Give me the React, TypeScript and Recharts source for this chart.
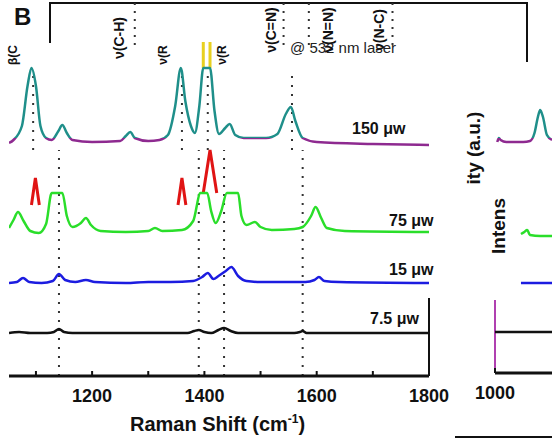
import { LineChart, Line, XAxis, YAxis, ReferenceLine } from "recharts";

// Raman shift (cm-1) and stacked intensity (a.u., offset per trace)
const shift150 = [1052, 1060, 1075, 1085, 1092, 1100, 1108, 1118, 1128, 1140, 1147, 1155, 1165, 1200, 1250, 1260, 1268, 1276, 1300, 1320, 1335, 1348, 1358, 1366, 1376, 1383, 1391, 1398, 1410, 1418, 1426, 1437, 1445, 1455, 1470, 1510, 1530, 1545, 1554, 1562, 1575, 1600, 1700, 1800];
const int150 = [233, 236, 250, 290, 308, 290, 250, 238, 236, 245, 251, 243, 236, 234, 235, 240, 244, 238, 235, 236, 241, 270, 308, 275, 250, 243, 270, 308, 308, 265, 242, 248, 252, 241, 238, 238, 242, 262, 269, 255, 238, 234, 232, 231];

const shift75 = [1052, 1060, 1068, 1078, 1090, 1105, 1118, 1128, 1147, 1155, 1165, 1180, 1189, 1198, 1215, 1260, 1300, 1312, 1325, 1360, 1380, 1393, 1405, 1412, 1420, 1430, 1440, 1460, 1466, 1475, 1490, 1500, 1520, 1560, 1575, 1590, 1598, 1608, 1618, 1650, 1800];
const int75 = [148, 156, 164, 155, 145, 143, 152, 183, 183, 160, 149, 153, 158, 151, 145, 144, 145, 148, 145, 146, 155, 183, 183, 165, 153, 165, 183, 183, 160, 151, 154, 149, 146, 147, 149, 160, 169, 158, 148, 145, 144];

const shift15 = [1052, 1066, 1077, 1088, 1110, 1130, 1141, 1152, 1170, 1189, 1205, 1260, 1300, 1340, 1380, 1396, 1406, 1416, 1425, 1438, 1448, 1460, 1475, 1500, 1580, 1596, 1604, 1614, 1640, 1800];
const int15 = [93, 94, 98, 94, 93, 95, 102, 96, 94, 96, 94, 93, 94, 94, 95, 99, 103, 97, 100, 105, 109, 100, 95, 94, 94, 96, 99, 95, 94, 93];

const shift7 = [1052, 1070, 1090, 1120, 1132, 1141, 1150, 1165, 1200, 1300, 1370, 1382, 1390, 1400, 1412, 1425, 1435, 1447, 1460, 1560, 1570, 1575, 1582, 1650, 1800];
const int7 = [43, 44, 43, 43, 44, 47, 44, 43, 43, 43, 43, 45, 46, 44, 43, 46, 48, 45, 43, 43, 44, 45, 43, 43, 43];

// clipped red peaks from an overlapping trace
const redShift = [1092, 1099, 1106, 1130, 1353, 1360, 1367, 1390, 1398, 1410, 1422];
const redInt = [171, 198, 171, null, 171, 198, 171, null, 183, 226, 183];

// right panel (partial)
const rShift150 = [1004, 1007, 1010, 1020, 1050, 1062, 1070, 1076, 1080, 1085, 1092, 1101];
const rInt150 = [231, 235, 233, 231, 231, 232, 240, 256, 263, 256, 238, 233];
const rShift75 = [1046, 1052, 1057, 1062, 1080, 1101];
const rInt75 = [139, 141, 143, 138, 137, 137];
const rShift15 = [1046, 1101];
const rInt15 = [90, 90];
const rShift7 = [1000, 1101];
const rInt7 = [41, 41];

const mainTicks = [1100, 1200, 1300, 1400, 1500, 1600, 1700, 1800];
const lowerMarkers = [1141, 1390, 1435, 1575];
const upperMarkers = [1095, 1360, 1406, 1556];
const topMarkers = [1276, 1541, 1586, 1735];

const powerLabels = [
  { text: "150 \u03bcw", x: 352, y: 120 },
  { text: "75 \u03bcw", x: 389, y: 212 },
  { text: "15 \u03bcw", x: 389, y: 261 },
  { text: "7.5 \u03bcw", x: 370, y: 310 },
];

const font = '"Liberation Sans", Arial, sans-serif';

const pts = (xs: number[], ys: (number | null)[]) => xs.map((x, i) => ({ x, y: ys[i] }));

function Tick(props: any) {
  const { x, y, payload, labelAll } = props;
  const v = payload.value;
  const showLabel = labelAll || v % 200 === 0;
  return (
    <g>
      <line x1={x} x2={x} y1={y} y2={y - 5} stroke="#111" strokeWidth={2} />
      {showLabel && (
        <text x={x} y={y + 26} textAnchor="middle" fontFamily={font} fontWeight="bold" fontSize={18} fill="#111">
          {v}
        </text>
      )}
    </g>
  );
}

function Gradient({ id }: { id: string }) {
  return (
    <defs>
      <linearGradient id={id} gradientUnits="userSpaceOnUse" x1="0" y1="0" x2="0" y2="443">
        <stop offset={0.312} stopColor="#1f8f8a" />
        <stop offset={0.312} stopColor="#8e2a90" />
      </linearGradient>
    </defs>
  );
}

function Rot({ text, x, y, size, weight = "bold" }: { text: string; x: number; y: number; size: number; weight?: string }) {
  return (
    <div
      style={{
        position: "absolute",
        left: x,
        top: y,
        transform: "translate(-50%, -50%) rotate(-90deg)",
        whiteSpace: "nowrap",
        fontFamily: font,
        fontWeight: weight as any,
        fontSize: size,
        color: "#111",
        lineHeight: 1,
      }}
    >
      {text}
    </div>
  );
}

export default function App() {
  const lineProps = { dot: false, isAnimationActive: false, dataKey: "y", strokeWidth: 2.5 } as const;
  return (
    <div style={{ position: "relative", width: 552, height: 443, overflow: "hidden", background: "#fff" }}>
      <style>{`body{margin:0}`}</style>

      {/* bracket at the top */}
      <div style={{ position: "absolute", left: 50, top: 2, width: 477, height: 2, background: "#111" }} />
      <div style={{ position: "absolute", left: 49, top: 2, width: 2, height: 41, background: "#111" }} />
      <div style={{ position: "absolute", left: 526, top: 2, width: 2, height: 60, background: "#111" }} />
      <div style={{ position: "absolute", left: 455, top: 436, width: 97, height: 2, background: "#111" }} />

      <div style={{ position: "absolute", left: 0, top: 0 }}>
        <LineChart width={552} height={443} margin={{ top: 0, right: 123, bottom: 0, left: 9 }}>
          <Gradient id="g150" />
          <XAxis
            type="number"
            dataKey="x"
            domain={[1052, 1800]}
            allowDataOverflow
            ticks={mainTicks}
            height={67}
            tickSize={0}
            tickMargin={0}
            tick={<Tick />}
            axisLine={{ stroke: "#111", strokeWidth: 3 }}
            tickLine={false}
          />
          <YAxis hide type="number" domain={[0, 376]} allowDataOverflow />
          {lowerMarkers.map((m) => (
            <ReferenceLine key={"l" + m} segment={[{ x: m, y: 0 }, { x: m, y: 226 }]} stroke="#333" strokeWidth={2} strokeDasharray="2 7" />
          ))}
          {upperMarkers.map((m) => (
            <ReferenceLine key={"u" + m} segment={[{ x: m, y: 226 }, { x: m, y: 306 }]} stroke="#333" strokeWidth={2} strokeDasharray="2 7" />
          ))}
          {topMarkers.map((m) => (
            <ReferenceLine key={"t" + m} segment={[{ x: m, y: 331 }, { x: m, y: 374 }]} stroke="#333" strokeWidth={2} strokeDasharray="2 6" />
          ))}
          <ReferenceLine segment={[{ x: 1398, y: 308 }, { x: 1398, y: 334 }]} stroke="#e8d020" strokeWidth={3} />
          <ReferenceLine segment={[{ x: 1410, y: 308 }, { x: 1410, y: 334 }]} stroke="#e8d020" strokeWidth={3} />
          <ReferenceLine segment={[{ x: 1800, y: 0 }, { x: 1800, y: 78 }]} stroke="#111" strokeWidth={2} />
          <Line {...lineProps} data={pts(redShift, redInt)} type="linear" stroke="#e01414" strokeWidth={3} connectNulls={false} />
          <Line {...lineProps} data={pts(shift7, int7)} type="monotone" stroke="#111111" />
          <Line {...lineProps} data={pts(shift15, int15)} type="monotone" stroke="#1c1ce0" />
          <Line {...lineProps} data={pts(shift75, int75)} type="monotone" stroke="#2ade2a" />
          <Line {...lineProps} data={pts(shift150, int150)} type="monotone" stroke="url(#g150)" />
        </LineChart>
      </div>

      <div style={{ position: "absolute", left: 470, top: 0 }}>
        <LineChart width={82} height={443} margin={{ top: 0, right: 0, bottom: 0, left: 25 }}>
          <Gradient id="g150r" />
          <XAxis
            type="number"
            dataKey="x"
            domain={[1000, 1101]}
            allowDataOverflow
            ticks={[1000]}
            height={70}
            tickSize={0}
            tickMargin={0}
            tick={<Tick labelAll />}
            axisLine={{ stroke: "#111", strokeWidth: 3 }}
            tickLine={false}
          />
          <YAxis hide type="number" domain={[0, 373]} allowDataOverflow />
          <ReferenceLine segment={[{ x: 1000, y: 0 }, { x: 1000, y: 73 }]} stroke="#b040b0" strokeWidth={2} ifOverflow="visible" />
          <Line {...lineProps} data={pts(rShift7, rInt7)} type="monotone" stroke="#111111" />
          <Line {...lineProps} data={pts(rShift15, rInt15)} type="monotone" stroke="#1c1ce0" />
          <Line {...lineProps} data={pts(rShift75, rInt75)} type="monotone" stroke="#2ade2a" />
          <Line {...lineProps} data={pts(rShift150, rInt150)} type="monotone" stroke="url(#g150r)" />
        </LineChart>
      </div>

      {/* overlay text */}
      <div style={{ position: "absolute", left: 14, top: 3, fontFamily: font, fontWeight: "bold", fontSize: 24, color: "#111" }}>B</div>
      <div style={{ position: "absolute", left: 290, top: 39, fontFamily: font, fontSize: 15, color: "#222" }}>@ 532 nm laser</div>
      <Rot text={"\u03bd(C-H)"} x={119} y={38} size={14} />
      <Rot text={"\u03bd(C=N)"} x={271} y={30} size={14} />
      <Rot text={"\u03bd(N=N)"} x={328} y={30} size={14} />
      <Rot text={"\u03bd(N-C)"} x={379} y={30} size={14} />
      <Rot text={"\u03b2(C"} x={13} y={55} size={12} />
      <Rot text={"\u03bd(R"} x={163} y={55} size={12} />
      <Rot text={"\u03bd(R"} x={222} y={55} size={12} />
      {powerLabels.map((p) => (
        <div key={p.text} style={{ position: "absolute", left: p.x, top: p.y, fontFamily: font, fontWeight: "bold", fontSize: 16, color: "#111", whiteSpace: "nowrap" }}>
          {p.text}
        </div>
      ))}
      <Rot text="ity (a.u.)" x={473} y={148} size={19} />
      <Rot text="Intens" x={498} y={226} size={19} />
      <div style={{ position: "absolute", left: 130, top: 412, fontFamily: font, fontWeight: "bold", fontSize: 20, color: "#111", whiteSpace: "nowrap" }}>
        Raman Shift (cm<sup style={{ fontSize: 12 }}>-1</sup>)
      </div>
    </div>
  );
}
